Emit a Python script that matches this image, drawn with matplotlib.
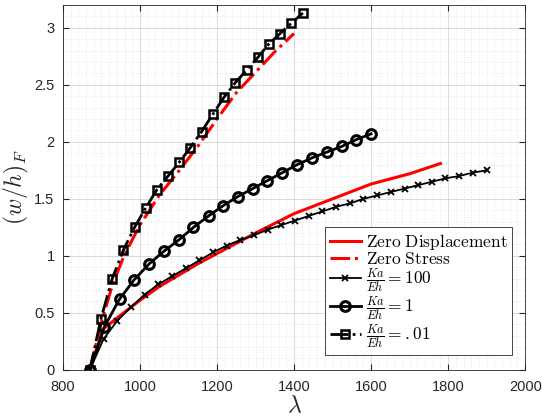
#!/usr/bin/env python3
"""Buckling amplitude (w/h)_F vs lambda for three stiffness ratios."""
import matplotlib
matplotlib.use("Agg")
import matplotlib.pyplot as plt
from matplotlib.ticker import MultipleLocator

# Ka/Eh = 100 (crosses)
lam_100 = [870, 905.5, 941, 976.6, 1012, 1047.6, 1083, 1118.6, 1154, 1189.7,
           1225, 1260.7, 1296, 1331.7, 1367, 1402.8, 1438, 1473.8, 1509, 1544.8,
           1580, 1615.9, 1651, 1686.9, 1722, 1757.9, 1793, 1828.9, 1864, 1900]
wh_100 = [0, 0.27, 0.43, 0.55, 0.66, 0.75, 0.82, 0.89, 0.96, 1.03,
          1.09, 1.14, 1.18, 1.23, 1.27, 1.31, 1.35, 1.39, 1.43, 1.46,
          1.50, 1.53, 1.56, 1.59, 1.62, 1.65, 1.68, 1.70, 1.73, 1.75]

# Ka/Eh = 1 (circles)
lam_1 = [870, 908, 947, 985, 1024, 1062, 1101, 1139, 1178, 1216,
         1254, 1293, 1331, 1370, 1408, 1447, 1485, 1524, 1562, 1600]
wh_1 = [0, 0.38, 0.62, 0.79, 0.93, 1.04, 1.14, 1.25, 1.35, 1.44,
        1.52, 1.59, 1.66, 1.73, 1.80, 1.86, 1.91, 1.96, 2.02, 2.07]

# Ka/Eh = .01 (squares)
lam_001 = [870, 899, 928, 957, 986, 1015, 1044, 1073, 1102, 1131,
           1160, 1189, 1218, 1248, 1277, 1306, 1335, 1364, 1393, 1423]
wh_001 = [0, 0.45, 0.80, 1.05, 1.25, 1.42, 1.58, 1.70, 1.82, 1.95,
          2.09, 2.24, 2.39, 2.52, 2.63, 2.74, 2.86, 2.95, 3.04, 3.13]

# zero displacement (red solid)
lam_zd = [870, 905, 950, 1000, 1050, 1100, 1150, 1200, 1250, 1300,
          1400, 1500, 1600, 1700, 1780]
wh_zd = [0, 0.36, 0.48, 0.61, 0.73, 0.83, 0.93, 1.02, 1.11, 1.20,
         1.37, 1.50, 1.63, 1.72, 1.81]

# zero stress (red dash-dot)
lam_zs = [870, 900, 930, 960, 1000, 1050, 1100, 1150, 1200, 1250, 1300, 1350, 1400]
wh_zs = [0, 0.42, 0.76, 1.01, 1.27, 1.53, 1.74, 1.96, 2.20, 2.43, 2.61, 2.79, 2.95]

plt.rcParams["mathtext.fontset"] = "cm"
plt.rcParams["font.family"] = ["Liberation Sans", "DejaVu Sans"]
GRAY = "#262626"

fig = plt.figure(figsize=(5.42, 4.17), dpi=100)
ax = fig.add_axes([0.116, 0.113, 0.853, 0.875])

ax.plot(lam_zd, wh_zd, "-", color="red", lw=2.2, label=r"$\mathrm{Zero\ Displacement}$")
ax.plot(lam_zs, wh_zs, "-.", color="red", lw=2.2, label=r"$\mathrm{Zero\ Stress}$")
ax.plot(lam_100, wh_100, "-", color="black", lw=1.3, marker="x", ms=5, mew=1.3,
        label=r"$\frac{Ka}{Eh}=100$")
ax.plot(lam_1, wh_1, "-", color="black", lw=2, marker="o", ms=7, mew=2.2,
        mfc="none", label=r"$\frac{Ka}{Eh}=1$")
ax.plot(lam_001, wh_001, "-.", color="black", lw=2, marker="s", ms=6, mew=1.8,
        mfc="none", label=r"$\frac{Ka}{Eh}=.01$")

ax.set_xlim(800, 2000)
ax.set_ylim(0, 3.2)
ax.xaxis.set_major_locator(MultipleLocator(200))
ax.xaxis.set_minor_locator(MultipleLocator(20))
ax.yaxis.set_major_locator(MultipleLocator(0.5))
ax.yaxis.set_minor_locator(MultipleLocator(0.1))
ax.yaxis.set_major_formatter(plt.FuncFormatter(lambda v, p: f"{v:g}"))
ax.grid(which="major", color="#d4d4d4", lw=0.6)
ax.grid(which="minor", color="#dcdcdc", lw=0.6, ls=(0, (1, 2)))
ax.set_axisbelow(True)
ax.tick_params(which="both", direction="in", top=True, right=True,
               colors=GRAY, labelsize=10.5)
ax.tick_params(which="minor", length=0)
ax.tick_params(which="major", length=4)
ax.tick_params(axis="x", pad=7)
ax.tick_params(axis="y", pad=6)
for s in ax.spines.values():
    s.set_color(GRAY)
    s.set_linewidth(0.6)

ax.set_xlabel(r"$\lambda$", fontsize=17, color=GRAY, labelpad=1)
ax.set_ylabel(r"$(w/h)_F$", fontsize=17, color=GRAY, labelpad=2)

leg = ax.legend(loc="lower right", bbox_to_anchor=(0.972, 0.041), borderaxespad=0,
                fontsize=12.5, fancybox=False, framealpha=1, edgecolor=GRAY,
                handlelength=1.8, handletextpad=0.3, borderpad=0.25,
                labelspacing=-0.02)
leg.get_frame().set_linewidth(0.6)

fig.savefig("out.png")
